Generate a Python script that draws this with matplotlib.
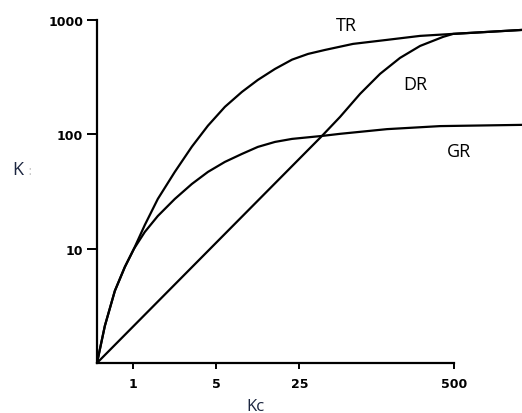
import numpy as np
import matplotlib.pyplot as plt

# values (log-log axes)
kc_tr = [0.5, 0.582, 0.706, 0.857, 1.02, 1.26, 1.62, 2.25, 3.13, 4.27, 5.93, 8.24, 11.2,
         15.6, 21.7, 29.6, 41.0, 70.6, 136, 258, 489, 679, 1858]
k_tr = [1, 2.11, 4.27, 6.92, 9.94, 16.1, 27.2, 46.9, 78, 119, 174, 235, 299,
        373, 450, 505, 547, 618, 670, 726, 756, 771, 819]

kc_gr = [0.5, 0.582, 0.706, 0.857, 1.02, 1.26, 1.62, 2.25, 3.13, 4.27, 5.93, 8.24, 11.2,
         15.6, 21.7, 38.7, 54.9, 136, 380, 1858]
k_gr = [1, 2.11, 4.27, 6.92, 9.94, 14.0, 19.3, 27.2, 36.8, 46.9, 57.4, 67.4, 77.6,
        85.8, 91.2, 96.8, 101, 111, 118, 121]

kc_dr = [0.5, 38.7, 54.9, 80.9, 119, 175, 258, 403, 489, 679, 1858]
k_dr = [1, 96.8, 142, 226, 338, 466, 593, 712, 756, 771, 819]

xticks = [1, 5, 25, 500]
yticks = [10, 100, 1000]

fig = plt.figure(figsize=(5.22, 4.14), dpi=100)
ax = fig.add_axes([0.1858, 0.1208, 0.8142, 0.8285])

for xs, ys in [(kc_tr, k_tr), (kc_gr, k_gr), (kc_dr, k_dr)]:
    ax.plot(xs, ys, color='black', lw=1.6, clip_on=False,
            solid_joinstyle='round', solid_capstyle='round')

ax.set_xscale('log')
ax.set_yscale('log')
ax.set_xlim(0.5, 1850)
ax.set_ylim(1, 1000)

ax.spines['top'].set_visible(False)
ax.spines['right'].set_visible(False)
ax.spines['left'].set_bounds(1, 1000)
ax.spines['bottom'].set_bounds(0.5, 500)
for s in ['left', 'bottom']:
    ax.spines[s].set_linewidth(1.6)

ax.set_xticks(xticks)
ax.set_xticklabels([str(v) for v in xticks])
ax.set_yticks(yticks)
ax.set_yticklabels([str(v) for v in yticks])
ax.minorticks_off()
ax.tick_params(axis='y', length=7, width=1.4, pad=3, labelsize=9)
ax.tick_params(axis='x', length=4, width=1.4, pad=6, labelsize=9)
for lab in ax.get_xticklabels() + ax.get_yticklabels():
    lab.set_fontweight('bold')

ax.text(61.7, 906, 'TR', fontsize=13, family='Open Sans', ha='center', va='center')
ax.text(234, 276, 'DR', fontsize=13, family='Open Sans', ha='center', va='center')
ax.text(549, 71.6, 'GR', fontsize=13, family='Open Sans', ha='center', va='center')

fig.text(18 / 522, 1 - 170 / 414, 'K', fontsize=13, family='Open Sans',
         color='#1c2640', ha='center', va='center')
fig.text(30 / 522, 1 - 171 / 414, ':', fontsize=10, color='#c8c8c8',
         ha='center', va='center')
fig.text(255 / 522, 1 - 411 / 414, 'Kc', fontsize=12, family='Open Sans',
         color='#1c2640', ha='center', va='baseline')

plt.savefig('out.png', dpi=100)
